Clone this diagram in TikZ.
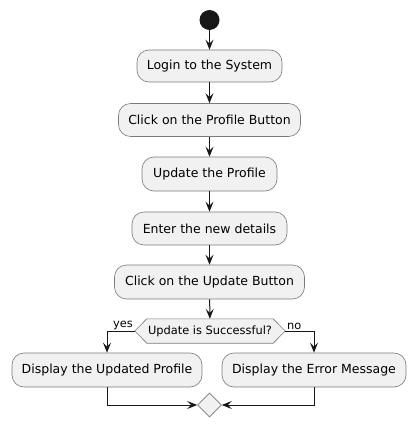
\documentclass[tikz,border=0pt]{standalone}
\usepackage{fontspec}
\setmainfont{DejaVu Sans}
\usetikzlibrary{arrows.meta,shapes.geometric,calc}
\definecolor{boxfill}{HTML}{F1F1F1}
\definecolor{boxline}{HTML}{7A7A7A}
\definecolor{ink}{HTML}{181818}
\tikzset{
  act/.style={draw=boxline,fill=boxfill,line width=0.6pt,rounded corners=12pt,inner sep=0pt,minimum height=34pt,font=\fontsize{12.5}{14}\selectfont,text=black},
  flow/.style={draw=ink,line width=1pt,-{Stealth[length=10pt,width=8pt,inset=4pt]}},
  lbl/.style={font=\fontsize{11.4}{13}\selectfont,inner sep=0pt,text=black}
}
\begin{document}
\begin{tikzpicture}[x=1pt,y=-1pt]
\useasboundingbox (0,0) rectangle (415,428);
\node[circle,fill=ink,minimum size=20pt,inner sep=0pt] (start) at (209.5,20) {};
\node[act,minimum width=145pt,minimum height=32pt] (login) at (209.5,66) {Login to the System};
\node[act,minimum width=182pt,minimum height=33pt] (profile) at (209.5,120) {Click on the Profile Button};
\node[act,minimum width=135pt] (upd) at (209.5,174) {Update the Profile};
\node[act,minimum width=155pt,minimum height=33pt] (enter) at (209.5,228.5) {Enter the new details};
\node[act,minimum width=190pt] (clickupd) at (209.5,282) {Click on the Update Button};
\node[inner sep=0pt,minimum width=150pt,minimum height=24pt] (dec) at (210,331) {};
\draw[draw=boxline,fill=boxfill,line width=0.6pt] (dec.west) -- ($(dec.north west)+(12,0)$) -- ($(dec.north east)+(-12,0)$) -- (dec.east) -- ($(dec.south east)+(-12,0)$) -- ($(dec.south west)+(12,0)$) -- cycle;
\node[lbl] at (dec) {Update is Successful?};
\node[act,minimum width=190pt] (disp1) at (107,370) {Display the Updated Profile};
\node[act,minimum width=184pt] (disp2) at (314,370) {Display the Error Message};
\node[diamond,draw=boxline,fill=boxfill,line width=0.6pt,minimum width=24pt,minimum height=24pt,inner sep=0pt] (merge) at (209.5,405) {};
\node[lbl,anchor=south east] (yes) at (133,330) {yes};
\node[lbl,anchor=south west] (no) at (287,330) {no};
\draw[flow] (start) -- (login);
\draw[flow] (login) -- (profile);
\draw[flow] (profile) -- (upd);
\draw[flow] (upd) -- (enter);
\draw[flow] (enter) -- (clickupd);
\draw[flow] (clickupd) -- (dec);
\draw[flow] (dec.west) -| (disp1.north);
\draw[flow] (dec.east) -| (disp2.north);
\draw[flow] (disp1.south) |- (merge.west);
\draw[flow] (disp2.south) |- (merge.east);
\end{tikzpicture}
\end{document}
